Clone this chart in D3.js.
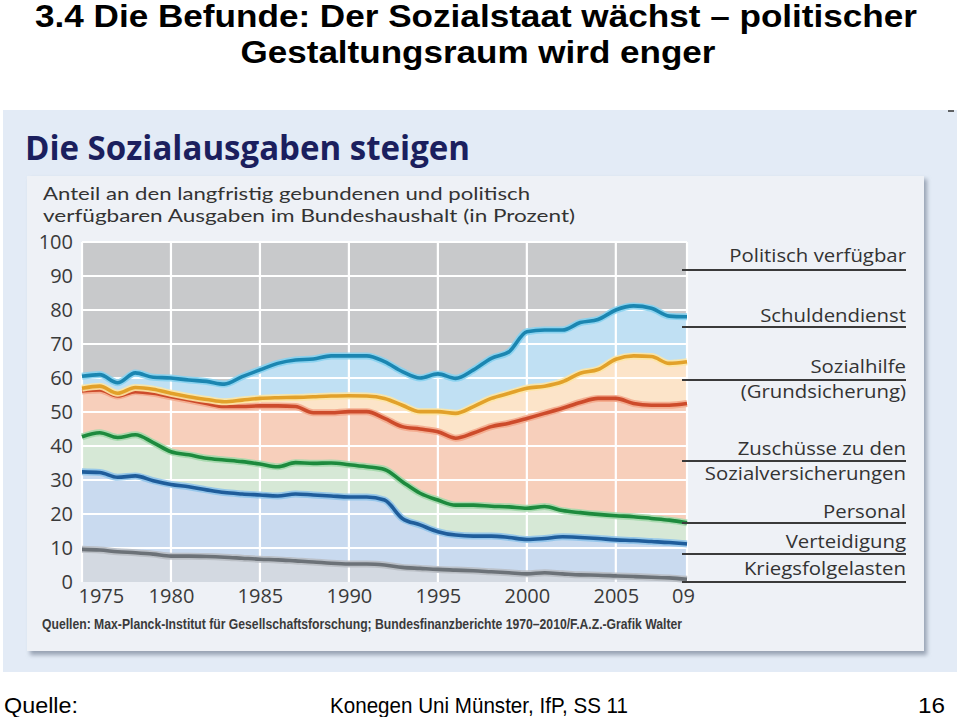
<!DOCTYPE html>
<html><head><meta charset="utf-8">
<script src="https://cdn.jsdelivr.net/npm/d3@7"></script>
<style>
html,body{margin:0;padding:0;background:#fff;}
svg{display:block;}
</style></head>
<body>
<svg id="c" width="960" height="717"></svg>
<script>
// ---- data (cumulative upper boundaries, % of Bundeshaushalt) ----
const years = d3.range(1975, 2010);
const kriegsfolgelasten = [9.6,9.4,8.9,8.6,8.2,7.6,7.6,7.5,7.3,7.0,6.7,6.5,6.2,5.9,5.5,5.3,5.3,5.0,4.3,4.0,3.7,3.5,3.3,3.0,2.7,2.4,2.7,2.4,2.1,2.0,1.8,1.6,1.4,1.2,0.8];
const verteidigung = [32.4,32.2,30.8,31.2,29.8,28.7,28.0,27.1,26.3,25.9,25.6,25.3,25.9,25.6,25.3,25.0,25.0,24.1,18.7,16.8,14.8,13.8,13.5,13.5,13.1,12.5,12.8,13.3,13.1,12.8,12.4,12.2,11.9,11.6,11.2];
const personal = [42.7,43.9,42.5,43.3,41.0,38.3,37.4,36.4,35.9,35.4,34.7,33.9,35.1,34.9,35.0,34.5,33.9,33.1,29.5,26.1,24.1,22.6,22.6,22.3,22.1,21.7,22.2,21.0,20.4,19.9,19.5,19.2,18.7,18.2,17.4];
const zuschuesse = [56.2,56.5,54.7,56.0,55.5,54.5,53.5,52.5,51.6,51.6,51.8,51.8,51.6,49.8,49.8,50.1,50.1,48.1,45.7,45.0,44.2,42.3,43.8,45.7,46.7,48.1,49.6,51.1,52.8,54.0,54.0,52.5,52.0,52.0,52.5];
const sozialhilfe = [57.0,57.6,55.5,57.2,56.7,55.5,54.5,53.7,53.0,53.5,54.0,54.2,54.3,54.5,54.7,54.8,54.7,54.0,52.0,50.1,50.1,49.6,51.6,54.0,55.5,57.0,57.6,58.9,61.4,62.5,65.5,66.5,66.3,64.3,64.8];
const schuldendienst = [60.5,61.0,58.6,61.5,60.2,60.0,59.4,59.0,58.2,60.4,62.4,64.3,65.3,65.6,66.5,66.5,66.5,64.8,61.9,60.0,61.2,59.9,62.4,65.8,67.7,73.6,74.1,74.1,76.3,77.2,80.0,81.2,80.5,78.2,78.0];
const yTicks = [0,10,20,30,40,50,60,70,80,90,100];
const xTicks = [1975,1980,1985,1990,1995,2000,2005,2009];
const legendLabels = [["Politisch verfügbar"],["Schuldendienst"],["Sozialhilfe","(Grundsicherung)"],["Zuschüsse zu den","Sozialversicherungen"],["Personal"],["Verteidigung"],["Kriegsfolgelasten"]];

// ---- layout & styles ----
const svg = d3.select("#c");
const FONT = "'Open Sans', 'Noto Sans', sans-serif";
const x = d3.scaleLinear().domain([1975, 2009]).range([82, 687]);
const y = d3.scaleLinear().domain([0, 100]).range([582, 242]);

// slide title
const title = svg.append("g").attr("font-family", "'Liberation Sans', Arial, sans-serif")
  .attr("font-weight", "bold").attr("font-size", 31).attr("fill", "#000").attr("text-anchor", "middle");
title.append("text").attr("x", 476).attr("y", 27).attr("textLength", 882).attr("lengthAdjust", "spacingAndGlyphs")
  .text("3.4 Die Befunde: Der Sozialstaat wächst – politischer");
title.append("text").attr("x", 478).attr("y", 63).attr("textLength", 475).attr("lengthAdjust", "spacingAndGlyphs")
  .text("Gestaltungsraum wird enger");

// outer picture panel
svg.append("rect").attr("x", 3).attr("y", 110).attr("width", 954).attr("height", 562).attr("fill", "#e3ebf6");
svg.append("line").attr("x1", 948).attr("x2", 954).attr("y1", 111).attr("y2", 111).attr("stroke", "#333").attr("stroke-width", 1.5);

// inner panel with shadow
const defs = svg.append("defs");
const f = defs.append("filter").attr("id", "sh").attr("x", "-5%").attr("y", "-5%").attr("width", "110%").attr("height", "110%");
f.append("feGaussianBlur").attr("stdDeviation", 2);
svg.append("rect").attr("x", 30).attr("y", 179).attr("width", 897).attr("height", 476).attr("fill", "#98a3b3").attr("filter", "url(#sh)");
svg.append("rect").attr("x", 27).attr("y", 176).attr("width", 897).attr("height", 475).attr("fill", "#eef1f6");

// panel title and subtitle
svg.append("text").attr("x", 25).attr("y", 160).attr("font-family", FONT).attr("font-weight", "bold")
  .attr("font-size", 34).attr("fill", "#1b1f5e").attr("textLength", 445).attr("lengthAdjust", "spacingAndGlyphs")
  .text("Die Sozialausgaben steigen");
const sub = svg.append("g").attr("font-family", "Lato, 'Open Sans', sans-serif").attr("font-size", 18).attr("fill", "#333");
sub.append("text").attr("x", 43).attr("y", 200).attr("textLength", 487).attr("lengthAdjust", "spacingAndGlyphs")
  .text("Anteil an den langfristig gebundenen und politisch");
sub.append("text").attr("x", 43).attr("y", 222).attr("textLength", 532).attr("lengthAdjust", "spacingAndGlyphs")
  .text("verfügbaren Ausgaben im Bundeshaushalt (in Prozent)");

// stacked bands
const rows = years.map((yr, i) => ({
  yr,
  b: [0, kriegsfolgelasten[i], verteidigung[i], personal[i], zuschuesse[i], sozialhilfe[i], schuldendienst[i], 100]
}));
const bandFill = ["#d3d9e1", "#c9daef", "#d6e8d6", "#f7cfbb", "#fce4c9", "#c0e0f3", "#c8c9cb"];
const curve = d3.curveMonotoneX;
bandFill.forEach((col, k) => {
  const area = d3.area().curve(curve).x(d => x(d.yr)).y0(d => y(d.b[k])).y1(d => y(d.b[k + 1]));
  svg.append("path").datum(rows).attr("d", area).attr("fill", col);
});

// grid
const grid = svg.append("g").attr("stroke", "#fff").attr("stroke-width", 2.2);
yTicks.filter(t => t > 0).forEach(t => grid.append("line").attr("x1", x(1975)).attr("x2", x(2009)).attr("y1", y(t)).attr("y2", y(t)));
[1975, 1980, 1985, 1990, 1995, 2000, 2005, 2009].forEach(t => grid.append("line").attr("x1", x(t)).attr("x2", x(t)).attr("y1", y(100)).attr("y2", y(0)));

// boundary lines (halo + line)
const lineStyles = [
  {k: 1, c: "#6c7278", h: "#b8bdc3"},
  {k: 2, c: "#1f5d9b", h: "#8fc3ea"},
  {k: 3, c: "#1d8a3d", h: "#a3d8ab"},
  {k: 4, c: "#cd4b2b", h: "#f3a88c"},
  {k: 5, c: "#e2a12a", h: "#fde5a4"},
  {k: 6, c: "#1b86b1", h: "#86d2f0"}
];
lineStyles.forEach(s => {
  const ln = d3.line().curve(curve).x(d => x(d.yr)).y(d => y(d.b[s.k]));
  svg.append("path").datum(rows).attr("d", ln).attr("fill", "none").attr("stroke", s.h).attr("stroke-width", 7).attr("stroke-linejoin", "round").attr("opacity", 0.9);
  svg.append("path").datum(rows).attr("d", ln).attr("fill", "none").attr("stroke", s.c).attr("stroke-width", 3.6).attr("stroke-linejoin", "round");
});

// axes
const yAx = svg.append("g").attr("transform", `translate(${x(1975)},0)`)
  .call(d3.axisLeft(y).tickValues(yTicks).tickSize(0).tickPadding(9));
yAx.select(".domain").remove();
yAx.selectAll("text").attr("font-family", FONT).attr("font-size", 20).attr("fill", "#3a3a3a");

const xAx = svg.append("g").attr("transform", `translate(0,${y(0)})`)
  .call(d3.axisBottom(x).tickValues(xTicks).tickSize(0).tickPadding(7).tickFormat(d => d === 2009 ? "09" : String(d)));
xAx.select(".domain").remove();
xAx.selectAll("text").attr("font-family", FONT).attr("font-size", 20).attr("fill", "#3a3a3a");
xAx.selectAll("text").filter(d => d === 1975).attr("text-anchor", "start").attr("dx", -4);
xAx.selectAll("text").filter(d => d === 2009).attr("dx", -4);

// legend (labels on right with leader rules)
const legendLayout = [
  {ly: 270, ty: [262]},
  {ly: 327, ty: [322]},
  {ly: 380, ty: [373, 398]},
  {ly: 461, ty: [455, 480]},
  {ly: 523, ty: [518]},
  {ly: 554, ty: [548]},
  {ly: 582, ty: [575]}
];
const lg = svg.append("g").attr("font-family", FONT).attr("font-size", 18.5).attr("fill", "#333").attr("text-anchor", "end");
legendLabels.forEach((lines, i) => {
  const L = legendLayout[i];
  lg.append("line").attr("x1", 682).attr("x2", 906).attr("y1", L.ly).attr("y2", L.ly).attr("stroke", "#3a3a3a").attr("stroke-width", 2);
  lines.forEach((t, j) => {
    const tx = lg.append("text").attr("x", 906).attr("y", L.ty[j]).text(t);
    const w = tx.node().getComputedTextLength();
    tx.attr("textLength", w * 1.1).attr("lengthAdjust", "spacingAndGlyphs");
  });
});

// source
svg.append("text").attr("x", 42).attr("y", 629).attr("font-family", "'Liberation Sans Narrow', 'Liberation Sans', sans-serif")
  .attr("font-size", 14).attr("font-weight", "bold").attr("fill", "#3a3a3a").attr("textLength", 640).attr("lengthAdjust", "spacingAndGlyphs")
  .text("Quellen: Max-Planck-Institut für Gesellschaftsforschung; Bundesfinanzberichte 1970–2010/F.A.Z.-Grafik Walter");

// footer
const ft = svg.append("g").attr("font-family", "'Liberation Sans Narrow', 'Liberation Sans', sans-serif").attr("font-size", 22).attr("fill", "#000");
ft.append("text").attr("x", 4).attr("y", 713).attr("textLength", 74).attr("lengthAdjust", "spacingAndGlyphs").text("Quelle:");
ft.append("text").attr("x", 330).attr("y", 713).attr("textLength", 298).attr("lengthAdjust", "spacingAndGlyphs").text("Konegen Uni Münster, IfP, SS 11");
ft.append("text").attr("x", 918).attr("y", 713).attr("textLength", 27).attr("lengthAdjust", "spacingAndGlyphs").text("16");
</script>
</body></html>
